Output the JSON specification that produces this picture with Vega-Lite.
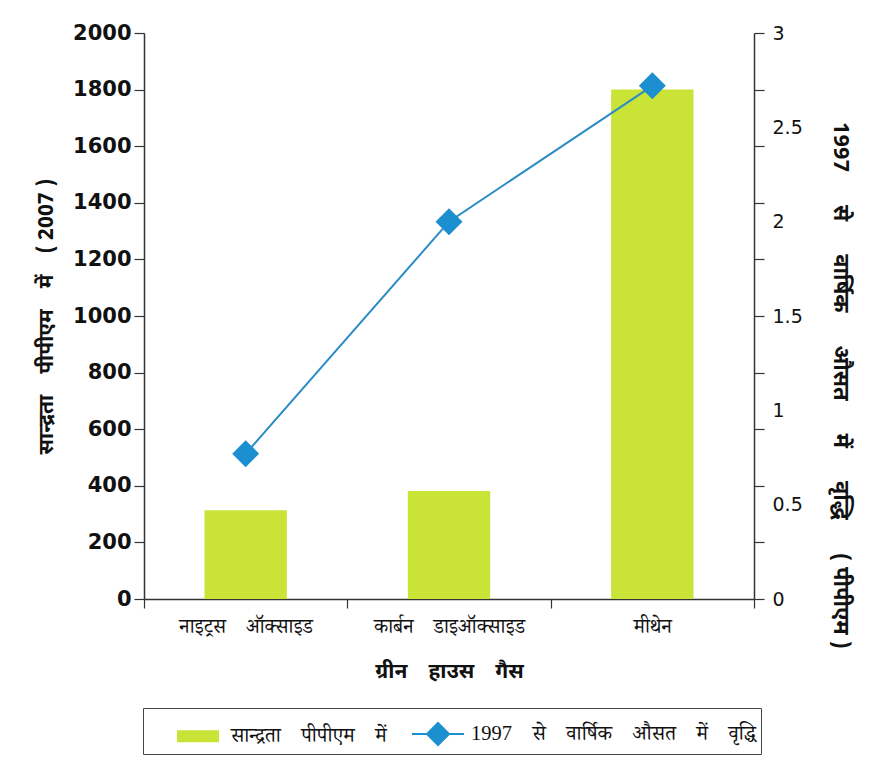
{
  "$schema": "https://vega.github.io/schema/vega-lite/v6.json",
  "width": 610,
  "height": 566,
  "autosize": {"type": "none"},
  "padding": {"left": 144, "top": 33, "right": 122, "bottom": 180},
  "background": "white",
  "config": {
    "view": {"stroke": null},
    "axis": {"domainColor": "#333333", "tickColor": "#333333", "labelColor": "#111111", "titleColor": "#111111", "grid": false, "domainWidth": 1.5, "tickWidth": 1.2}
  },
  "data": {
    "values": [
      {"gas": "नाइट्रस\u2003ऑक्साइड", "conc": 314, "rise": 0.77},
      {"gas": "कार्बन\u2003डाइऑक्साइड", "conc": 382, "rise": 2.0},
      {"gas": "मीथेन", "conc": 1800, "rise": 2.72}
    ]
  },
  "encoding": {
    "x": {
      "field": "gas",
      "type": "nominal",
      "sort": null,
      "scale": {"paddingInner": 0, "paddingOuter": 0},
      "axis": {
        "title": "ग्रीन\u2003हाउस\u2003गैस",
        "titleFont": "Noto Sans Devanagari, Noto Sans, sans-serif",
        "titleFontSize": 21,
        "titleFontWeight": "bold",
        "titlePadding": 24,
        "labelAngle": 0,
        "labelFont": "Noto Serif Devanagari, Noto Sans Devanagari, serif",
        "labelFontSize": 20,
        "labelFontWeight": "normal",
        "labelPadding": 8,
        "tickBand": "extent",
        "tickSize": 9
      }
    }
  },
  "layer": [
    {
      "mark": {"type": "bar", "width": {"band": 0.405}},
      "encoding": {
        "y": {
          "field": "conc",
          "type": "quantitative",
          "scale": {"domain": [0, 2000], "nice": false},
          "axis": {
            "orient": "left",
            "title": "सान्द्रता\u2003पीपीएम\u2003में\u2003( 2007 )",
            "titleFont": "Noto Sans Devanagari, Noto Sans, sans-serif",
            "titleFontSize": 21,
            "titleFontWeight": "bold",
            "titlePadding": 16,
            "values": [0, 200, 400, 600, 800, 1000, 1200, 1400, 1600, 1800, 2000],
            "format": "d",
            "labelFont": "DejaVu Sans",
            "labelFontSize": 21,
            "labelFontWeight": "bold",
            "labelPadding": 3,
            "tickSize": 10
          }
        },
        "color": {
          "datum": "सान्द्रता\u2003पीपीएम\u2003में",
          "type": "nominal",
          "scale": {
            "domain": ["सान्द्रता\u2003पीपीएम\u2003में", "1997\u2003से\u2003वार्षिक\u2003औसत\u2003में\u2003वृद्धि\u2003"],
            "range": ["#c9e336", "#1b8fd0"]
          },
          "legend": {
            "orient": "none",
            "legendX": -1,
            "legendY": 675,
            "direction": "horizontal",
            "title": null,
            "strokeColor": "#444444",
            "padding": 5,
            "symbolSize": 1600,
            "symbolOffset": 29,
            "symbolOpacity": 1,
            "symbolStrokeWidth": 2,
            "labelFont": "Liberation Serif, Noto Serif Devanagari, serif",
            "labelFontSize": 20.5,
            "labelColor": "#111111",
            "labelOffset": 12,
            "columnPadding": 1,
            "labelLimit": 500,
            "encode": {"symbols": {"update": {"stroke": {"scale": "color", "field": "value"}}}}
          }
        }
      }
    },
    {
      "layer": [
        {
          "mark": {"type": "line", "color": "#2a8cc4", "strokeWidth": 2},
          "encoding": {
            "y": {
              "field": "rise",
              "type": "quantitative",
              "scale": {"domain": [0, 3], "nice": false},
              "axis": {
                "orient": "right",
                "title": "1997\u2003\u2002से\u2003\u2002वार्षिक\u2003\u2002औसत\u2003\u2002में\u2003\u2002वृद्धि\u2003\u2002( पीपीएम )",
                "titleFont": "Noto Sans Devanagari, Noto Sans, sans-serif",
                "titleFontSize": 22,
                "titleFontWeight": "bold",
                "titleAngle": 90,
                "titlePadding": 26,
                "titleY": 352,
                "values": [0, 0.3, 0.5, 0.6, 0.9, 1, 1.2, 1.5, 1.8, 2, 2.1, 2.4, 2.5, 2.7, 3],
                "tickOpacity": {"condition": {"test": "indexof([0,0.3,0.6,0.9,1.2,1.5,1.8,2.1,2.4,2.7,3], datum.value) >= 0", "value": 1}, "value": 0},
                "labelExpr": "indexof([0,0.5,1,1.5,2,2.5,3], datum.value) >= 0 ? format(datum.value, '~g') : ''",
                "labelOverlap": false,
                "labelFont": "DejaVu Sans",
                "labelFontSize": 19,
                "labelPadding": 8,
                "tickSize": 10
              }
            }
          }
        },
        {
          "mark": {"type": "point", "filled": true, "size": 2400, "opacity": 1},
          "encoding": {
            "y": {"field": "rise", "type": "quantitative"},
            "color": {"datum": "1997\u2003से\u2003वार्षिक\u2003औसत\u2003में\u2003वृद्धि\u2003", "type": "nominal"},
            "shape": {
              "datum": "1997\u2003से\u2003वार्षिक\u2003औसत\u2003में\u2003वृद्धि\u2003",
              "type": "nominal",
              "scale": {
                "domain": ["सान्द्रता\u2003पीपीएम\u2003में", "1997\u2003से\u2003वार्षिक\u2003औसत\u2003में\u2003वृद्धि\u2003"],
                "range": ["M-1,-0.25H1V0.25H-1Z", "M-1.3,0H-0.5M0.5,0H1.3M0,-0.55L0.55,0L0,0.55L-0.55,0Z"]
              }
            }
          }
        }
      ]
    }
  ],
  "resolve": {"scale": {"y": "independent"}}
}
